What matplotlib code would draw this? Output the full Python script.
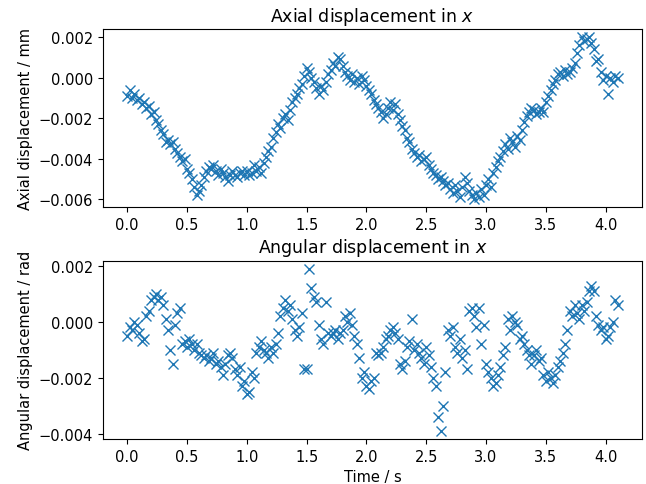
import numpy as np
import matplotlib
matplotlib.use("Agg")
import matplotlib.pyplot as plt
from matplotlib.ticker import MultipleLocator

plt.rcParams["font.size"] = 10.5
plt.rcParams["axes.titlesize"] = 12.5

# sampling: 0.02 s steps from 0 to 4.1 s
dt = 0.02
n_samples = 206

# axial displacement, micrometres
axial_um = [
    -0.9, -0.6, -1.0, -0.8, -1.1,
    -1.0, -1.3, -1.2, -1.5, -1.4,
    -1.8, -1.7, -2.1, -2.3, -2.6,
    -2.8, -3.2, -3.1, -3.3, -3.2,
    -3.5, -3.7, -3.9, -4.1, -4.0,
    -4.5, -4.7, -5.0, -5.4, -5.8,
    -5.6, -5.3, -4.9, -4.6, -4.4,
    -4.5, -4.3, -4.6, -4.8, -4.5,
    -4.7, -4.9, -5.1, -4.8, -4.6,
    -4.8, -4.9, -4.7, -4.6, -4.8,
    -4.6, -4.8, -4.7, -4.3, -4.6,
    -4.4, -4.7, -4.2, -3.9, -3.6,
    -3.4, -3.0, -2.7, -2.3, -2.5,
    -2.0, -1.8, -2.1, -1.6, -1.2,
    -1.0, -0.8, -0.5, -0.3, 0.1,
    0.5, 0.3, 0.0, -0.2, -0.5,
    -0.8, -0.4, -0.6, -0.2, 0.2,
    0.4, 0.7, 0.6, 1.0, 0.9,
    0.6, 0.3, 0.1, -0.1, 0.2,
    -0.2, 0.0, -0.3, 0.1, -0.1,
    -0.4, -0.6, -0.8, -1.1, -1.3,
    -1.5, -1.7, -2.0, -1.8, -1.5,
    -1.2, -1.6, -1.3, -1.8, -2.1,
    -2.4, -2.6, -3.0, -3.2, -3.5,
    -3.7, -3.9, -3.8, -4.1, -4.0,
    -3.9, -4.3, -4.5, -4.7, -4.8,
    -5.0, -4.9, -5.1, -5.3, -5.2,
    -5.5, -5.7, -5.3, -5.6, -5.9,
    -5.4, -4.9, -5.2, -5.6, -5.8,
    -6.0, -5.7, -5.9, -5.5, -5.8,
    -5.3, -5.0, -5.4, -4.7, -4.4,
    -4.1, -3.9, -3.6, -3.3, -3.5,
    -3.0, -3.2, -3.4, -2.9, -3.1,
    -2.6, -2.2, -1.9, -1.7, -1.5,
    -1.6, -1.8, -1.7, -1.5, -1.7,
    -1.2, -0.9, -0.6, -0.3, -0.1,
    0.2, 0.3, 0.1, 0.4, 0.2,
    0.3, 0.5, 0.7, 1.2, 1.6,
    2.0, 1.8, 1.9, 2.0, 1.7,
    1.4, 0.8, 0.9, 0.3, -0.1,
    0.1, -0.8, 0.0, -0.2, 0.1,
    0.0,
]

# angular displacement, milliradians
angular_mrad = [
    -0.5, -0.2, -0.3, 0.0, -0.1,
    -0.4, -0.7, -0.6, 0.2, 0.4,
    0.8, 0.9, 1.0, 0.8, 0.9,
    0.6, 0.1, -0.3, -1.0, -1.5,
    -0.1, 0.3, 0.5, -0.8, -0.7,
    -0.9, -0.6, -0.8, -1.0, -0.8,
    -1.1, -1.2, -1.3, -1.2, -1.4,
    -1.3, -1.1, -1.5, -1.4, -1.6,
    -1.9, -1.5, -1.2, -1.1, -1.3,
    -1.7, -1.9, -1.6, -2.3, -2.1,
    -2.6, -2.5, -1.8, -2.0, -1.1,
    -0.9, -0.7, -1.0, -1.1, -1.3,
    -0.9, -1.1, -0.8, -0.4, 0.2,
    0.5, 0.8, 0.4, 0.6, 0.1,
    -0.3, -0.5, -0.2, 0.3, -1.7,
    -1.7, 1.9, 1.2, 0.9, 0.7,
    -0.1, -0.6, -0.8, 0.7, -0.4,
    -0.5, -0.4, -0.3, -0.6, -0.4,
    -0.3, 0.2, 0.0, 0.3, -0.1,
    -0.5, -0.8, -1.3, -2.0, -1.8,
    -2.3, -2.4, -2.1, -2.0, -1.1,
    -1.2, -1.1, -0.9, -0.6, -0.5,
    -0.3, -0.2, -0.4, -0.6, -1.5,
    -1.7, -1.4, -0.9, -0.7, 0.1,
    -1.0, -0.8, -1.1, -1.3, -1.5,
    -0.9, -1.2, -1.6, -2.0, -2.3,
    -3.4, -3.9, -3.0, -1.8, -0.3,
    -0.5, -0.2, -0.9, -1.1, -0.6,
    -1.3, -1.0, -1.7, 0.4, 0.5,
    0.2, -0.2, 0.5, -0.8, -0.1,
    -1.5, -1.8, -2.0, -2.3, -2.2,
    -1.9, -1.6, -1.2, -0.9, 0.1,
    -0.3, 0.2, 0.0, -0.1, -0.6,
    -0.5, -0.8, -1.0, -1.2, -1.5,
    -1.2, -1.0, -1.4, -1.3, -1.9,
    -2.1, -1.8, -2.0, -2.2, -1.9,
    -1.6, -1.4, -1.1, -0.8, -0.3,
    0.4, 0.2, 0.6, 0.3, 0.1,
    0.6, 0.4, 0.7, 1.1, 1.3,
    1.1, 0.2, -0.1, -0.3, -0.2,
    -0.6, -0.5, -0.2, 0.0, 0.8,
    0.6,
]

t = np.arange(n_samples) * dt
axial = np.array(axial_um) * 1e-3
angular = np.array(angular_mrad) * 1e-3

fig, (ax1, ax2) = plt.subplots(2, 1, figsize=(6.46, 4.85), dpi=100)
fig.subplots_adjust(left=0.159, right=0.994, top=0.938, bottom=0.093,
                    hspace=0.30)

ax1.plot(t, axial, "x", markersize=7)
ax1.set_title("Axial displacement in $x$")
ax1.set_ylabel("Axial displacement / mm")

ax2.plot(t, angular, "x", markersize=7)
ax2.set_title("Angular displacement in $x$")
ax2.set_ylabel("Angular displacement / rad")
ax2.set_xlabel("Time / s")

for ax in (ax1, ax2):
    ax.xaxis.set_major_locator(MultipleLocator(0.5))

fig.savefig("out.png", dpi=100)
